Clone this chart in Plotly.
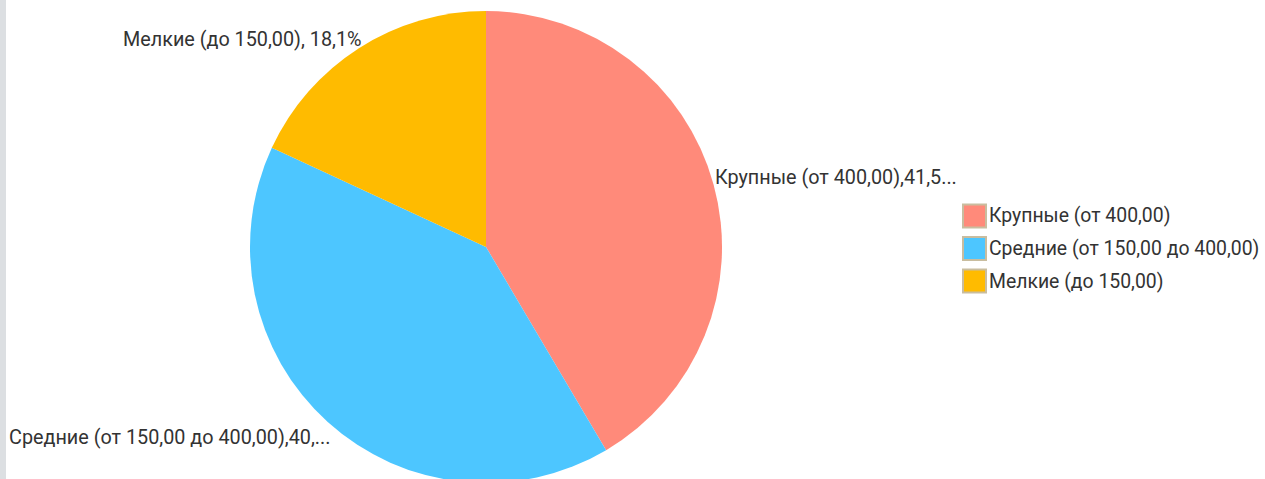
import plotly.graph_objects as go

# ---- data ----
categories = ["Крупные (от 400,00)", "Средние (от 150,00 до 400,00)", "Мелкие (до 150,00)"]
shares = [41.5, 40.4, 18.1]
colors = ["#FF8A7A", "#4DC6FF", "#FFBB00"]
# visible (truncated) slice label texts as shown in the original
slice_label_text = ["Крупные (от 400,00),41,5...", "Средние (от 150,00 до 400,00),40,...", "Мелкие (до 150,00), 18,1%"]

W, H = 1265, 490
FONT = "Roboto"
FSIZE = 19.8
LSIZE = 19.4
TXT = "#333333"

def px(x):
    return x / W

def py(y):
    return 1 - y / H

cx, cy, r = 486, 247, 236

fig = go.Figure()
fig.add_trace(go.Pie(
    labels=categories,
    values=shares,
    sort=False,
    direction="clockwise",
    rotation=0,
    marker=dict(colors=colors, line=dict(width=0)),
    textinfo="none",
    hoverinfo="label+percent",
    showlegend=False,
    domain=dict(x=[px(cx - r), px(cx + r)], y=[py(cy + r), py(cy - r)]),
))

shapes = [dict(type="rect", xref="paper", yref="paper", x0=0, x1=px(6), y0=0, y1=1,
               fillcolor="#DCDFE2", line=dict(width=0), layer="below")]
annotations = []

# slice labels
label_pos = [(713, 177), (7, 437), (121, 40)]
for txt, (lx, ly) in zip(slice_label_text, label_pos):
    annotations.append(dict(text=txt, x=px(lx), y=py(ly), xref="paper", yref="paper",
                            xanchor="left", yanchor="middle", showarrow=False,
                            font=dict(family=FONT, size=FSIZE, color=TXT)))

# legend
for i, (cat, col) in enumerate(zip(categories, colors)):
    ly = 216 + i * 32.5
    shapes.append(dict(type="rect", xref="paper", yref="paper",
                       x0=px(963), x1=px(986), y0=py(ly + 11.5), y1=py(ly - 11.5),
                       fillcolor=col, line=dict(color="#C9BD9F", width=2)))
    annotations.append(dict(text=cat, x=px(987), y=py(ly), xref="paper", yref="paper",
                            xanchor="left", yanchor="middle", showarrow=False,
                            font=dict(family=FONT, size=LSIZE, color=TXT)))

fig.update_layout(
    width=W, height=H,
    margin=dict(l=0, r=0, t=0, b=0),
    paper_bgcolor="white",
    plot_bgcolor="white",
    shapes=shapes,
    annotations=annotations,
    font=dict(family=FONT, color=TXT),
)

fig.write_html("out.html",
               post_script="document.documentElement.style.overflow='hidden';document.body.style.overflow='hidden';document.body.style.margin='0';")
